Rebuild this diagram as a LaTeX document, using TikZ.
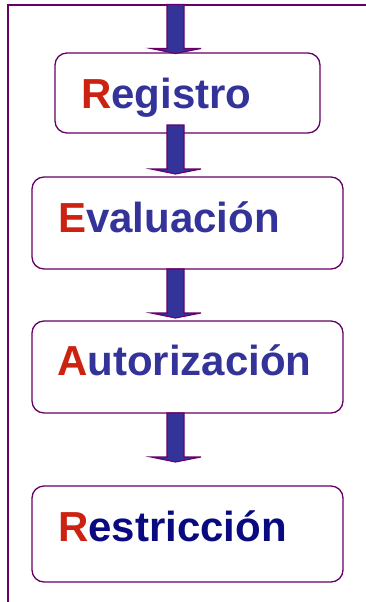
\documentclass[tikz,border=0pt]{standalone}
\usepackage{fontspec}
\setmainfont{Liberation Sans}
\usetikzlibrary{calc}
\definecolor{frameP}{HTML}{660066}
\definecolor{barB}{HTML}{333399}
\definecolor{capR}{HTML}{CC2211}
\definecolor{txtB}{HTML}{333399}
\definecolor{txtN}{HTML}{0A0A80}
\tikzset{
  stagebox/.style={draw=frameP, line width=1.3pt, rounded corners=12pt, fill=white, inner sep=0pt},
  stagetext/.style={anchor=base west, inner sep=0pt, font=\fontsize{42}{42}\selectfont\bfseries},
  framing/.style={draw=frameP, line width=1.3pt},
  bararrow/.style={draw=frameP, fill=barB, line width=1.1pt, line join=miter}
}
\newcommand{\fatarrow}[2]{%
  \draw[bararrow] ($(#1)+(-8.5,0)$) -- ($(#2)+(-8.5,-5)$) -- ($(#2)+(-24.5,-5)$) -- (#2)
    -- ($(#2)+(25.5,-5)$) -- ($(#2)+(8.5,-5)$) -- ($(#1)+(8.5,0)$) -- cycle;}
\begin{document}
\begin{tikzpicture}[x=1pt,y=-1pt]
\useasboundingbox (0,0) rectangle (366,602);
% frame
\coordinate (fcorner) at (8,5);
\coordinate (fright) at (366,5);
\coordinate (fbottom) at (8,602);
\draw[framing] (fright) -- (fcorner) -- (fbottom);
% boxes
\node[stagebox, minimum width=265pt, minimum height=80pt] (b1) at (187.5,93) {};
\node[stagebox, minimum width=311pt, minimum height=92pt] (b2) at (187.5,223) {};
\node[stagebox, minimum width=311pt, minimum height=92pt] (b3) at (187.5,367) {};
\node[stagebox, minimum width=311pt, minimum height=96pt] (b4) at (187.5,534) {};
% texts
\node[stagetext] (t1) at (81,108) {\textcolor{capR}{R}\textcolor{txtB}{egistro}};
\node[stagetext] (t2) at (58,232) {\textcolor{capR}{E}\textcolor{txtB}{valuación}};
\node[stagetext] (t3) at (57,375) {\textcolor{capR}{A}\textcolor{txtB}{utorización}};
\node[stagetext] (t4) at (58,541) {\textcolor{capR}{R}\textcolor{txtN}{estricción}};
% arrow coordinates
\coordinate (a1s) at (175.5,4.5);
\coordinate (a1e) at (175.5,53.5);
\coordinate (a2s) at (175.5,125);
\coordinate (a2e) at (175.5,174);
\coordinate (a3s) at (175.5,269);
\coordinate (a3e) at (175.5,318);
\coordinate (a4s) at (175.5,413);
\coordinate (a4e) at (175.5,462);
\fatarrow{a1s}{a1e}
\fatarrow{a2s}{a2e}
\fatarrow{a3s}{a3e}
\fatarrow{a4s}{a4e}
\end{tikzpicture}
\end{document}
